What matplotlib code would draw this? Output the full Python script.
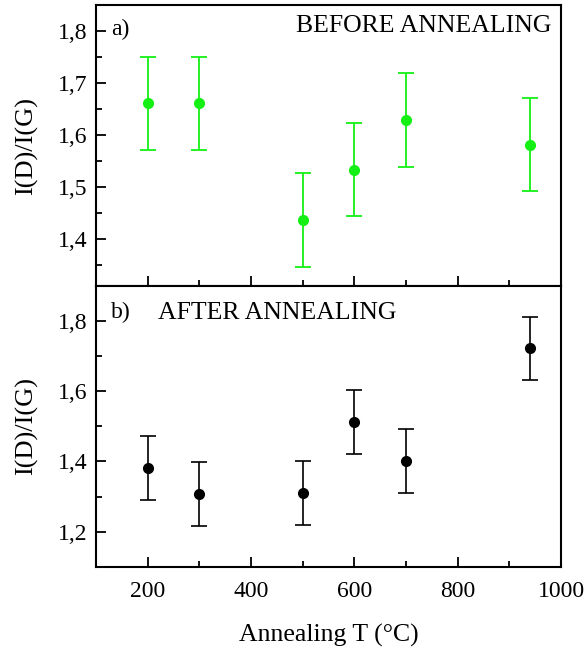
import matplotlib
matplotlib.use("Agg")
import matplotlib.pyplot as plt
from matplotlib.ticker import MultipleLocator, FuncFormatter

# --- data ---
temps = [200, 300, 500, 600, 700, 940]

before_ratio = [1.661, 1.661, 1.437, 1.534, 1.629, 1.582]
before_err = [0.090, 0.090, 0.090, 0.090, 0.090, 0.090]

after_ratio = [1.382, 1.307, 1.310, 1.512, 1.402, 1.722]
after_err = [0.091, 0.092, 0.091, 0.091, 0.091, 0.091]

plt.rcParams['font.family'] = ['Liberation Serif', 'DejaVu Serif']

fig = plt.figure(figsize=(5.85, 6.5), dpi=100)
ax1 = fig.add_axes([0.164, 0.560, 0.795, 0.432])
ax2 = fig.add_axes([0.164, 0.128, 0.795, 0.432], sharex=ax1)

comma = FuncFormatter(lambda v, p: f"{v:.1f}".replace(".", ","))

# --- panel a ---
ax1.errorbar(temps, before_ratio, yerr=before_err, fmt='o', color='#14f014',
             ms=7, elinewidth=1.3, capsize=6, capthick=1.3)
ax1.set_ylim(1.31, 1.85)
ax1.yaxis.set_major_locator(MultipleLocator(0.1))
ax1.yaxis.set_minor_locator(MultipleLocator(0.05))
ax1.yaxis.set_major_formatter(comma)
ax1.set_ylabel("I(D)/I(G)", fontsize=19)
ax1.text(0.033, 0.915, "a)", transform=ax1.transAxes, fontsize=17, va='center')
ax1.text(0.98, 0.925, "BEFORE ANNEALING", transform=ax1.transAxes,
         fontsize=18.5, ha='right', va='center')
ax1.tick_params(labelbottom=False)

# --- panel b ---
ax2.errorbar(temps, after_ratio, yerr=after_err, fmt='o', color='black',
             ms=7, elinewidth=1.2, capsize=6, capthick=1.2)
ax2.set_ylim(1.1, 1.9)
ax2.yaxis.set_major_locator(MultipleLocator(0.2))
ax2.yaxis.set_minor_locator(MultipleLocator(0.1))
ax2.yaxis.set_major_formatter(comma)
ax2.set_ylabel("I(D)/I(G)", fontsize=19)
ax2.text(0.033, 0.905, "b)", transform=ax2.transAxes, fontsize=17, va='center')
ax2.text(0.133, 0.905, "AFTER ANNEALING", transform=ax2.transAxes,
         fontsize=18.5, ha='left', va='center')

ax2.set_xlim(100, 1000)
ax2.xaxis.set_major_locator(MultipleLocator(200))
ax2.xaxis.set_minor_locator(MultipleLocator(100))
ax2.set_xlabel("Annealing T (°C)", fontsize=18.5, labelpad=16)
ax2.tick_params(axis='x', pad=10)

for ax in (ax1, ax2):
    for s in ax.spines.values():
        s.set_linewidth(1.5)
    ax.tick_params(which='both', direction='in', top=False, right=False,
                   labelsize=17, width=1.3)
    ax.tick_params(axis='y', pad=6)
    ax.tick_params(which='major', length=7)
    ax.tick_params(which='minor', length=4)
    ax.yaxis.set_label_coords(-0.125, 0.5)

fig.savefig("out.png", dpi=100)
